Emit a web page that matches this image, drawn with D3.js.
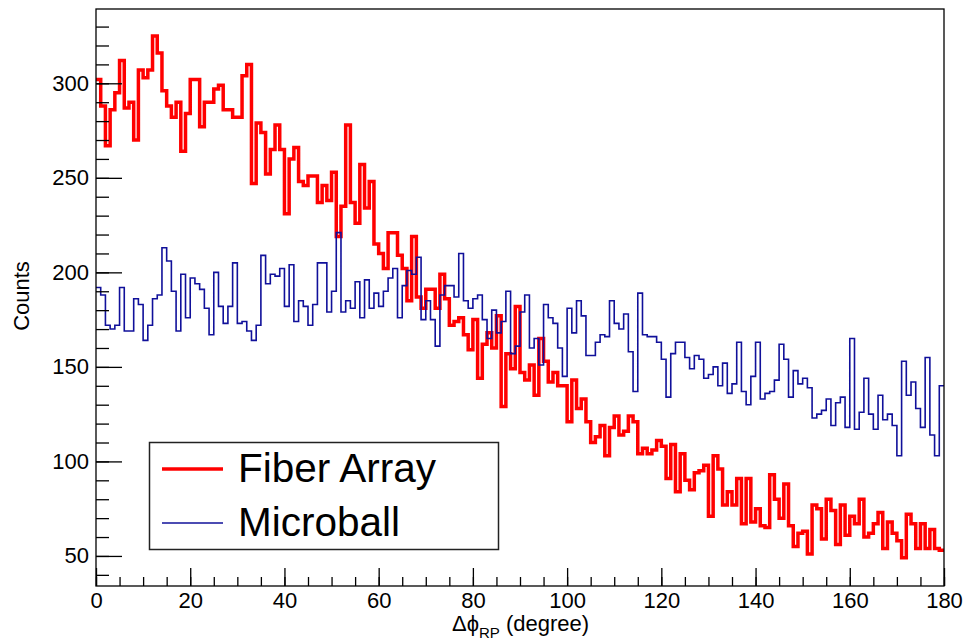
<!DOCTYPE html>
<html>
<head>
<meta charset="utf-8">
<script src="https://cdn.jsdelivr.net/npm/d3@7"></script>
<style>
  body { margin: 0; background: #fff; }
  text { font-family: "Liberation Sans", Arial, sans-serif; }
</style>
</head>
<body>
<svg id="vis1" width="963" height="642"></svg>
<script>
// bin edges: 1 degree bins from 0 to 180
var binStart = 0, binWidth = 1;

// Fiber Array counts per bin
var fiberCounts = [
 302,288,267,286,295,312,287,290,270,307, 303,307,325,316,296,288,282,290,264,284,
 302,302,277,290,290,297,299,286,286,282, 282,304,310,247,279,274,252,265,278,265,
 231,260,266,248,246,251,251,237,246,238, 253,219,235,278,237,226,257,234,248,215,
 210,202,221,221,209,202,185,219,187,181, 191,191,181,199,186,172,174,176,167,159,
 175,144,162,168,160,177,129,157,149,182, 147,143,151,135,165,153,142,147,140,140,
 121,143,128,133,121,110,113,119,103,118, 124,114,116,124,121,104,107,104,106,111,
 108,91,109,84,104,90,85,94,95,98, 71,103,96,77,84,77,91,67,91,68,
 75,66,65,93,80,70,88,66,55,62, 63,51,77,75,59,80,74,56,77,61,
 71,67,80,60,62,67,73,54,68,62, 58,49,72,67,54,67,54,64,54,53
];

// Microball counts per bin
var microCounts = [
 192,188,172,170,172,192,169,169,186,183, 164,172,186,188,213,206,190,169,199,176,
 197,194,191,181,167,200,182,173,182,205, 173,174,169,164,172,209,194,199,198,202,
 182,204,174,185,182,172,183,205,205,179, 190,221,179,185,181,195,176,196,181,189,
 182,190,197,202,176,193,201,199,208,175, 185,175,161,188,193,193,187,210,185,181,
 186,188,175,165,180,168,174,190,157,161, 179,188,160,165,151,183,176,173,160,145,
 181,168,185,177,156,156,163,167,166,185, 173,170,178,158,137,189,167,166,166,163,
 154,134,157,163,163,155,149,156,154,144, 146,150,140,152,136,141,163,137,130,145,
 163,133,136,137,143,162,154,134,148,141, 144,139,123,125,127,133,119,131,134,118,
 165,117,126,144,125,117,135,122,125,119, 103,153,135,142,128,118,155,114,103,140
];

var xTicks = [0,20,40,60,80,100,120,140,160,180];
var yTicks = [50,100,150,200,250,300];
var seriesNames = ["Fiber Array", "Microball"];
var seriesColors = ["#ff0000", "#10109a"];

window.onload = function(){
    drawChart();
};

function drawChart(){
    let svg = d3.select("#vis1");

    let left = 96, right = 944, top = 9, bottom = 586;

    let xScale = d3.scaleLinear().domain([0, 180]).range([left, right]);
    let yScale = d3.scaleLinear().domain([34.1, 339.3]).range([bottom, top]);

    // step line through bin edges, ROOT style
    function stepPoints(counts){
        let pts = counts.map(function(c, i){ return [binStart + i*binWidth, c]; });
        pts.push([binStart + counts.length*binWidth, counts[counts.length-1]]);
        return pts;
    }
    let line = d3.line()
        .x(function(d){ return xScale(d[0]); })
        .y(function(d){ return yScale(d[1]); })
        .curve(d3.curveStepAfter);

    let plot = svg.append("g");

    plot.append("path")
        .attr("d", line(stepPoints(fiberCounts)))
        .attr("fill", "none")
        .attr("stroke", seriesColors[0])
        .attr("stroke-width", 3.5);

    plot.append("path")
        .attr("d", line(stepPoints(microCounts)))
        .attr("fill", "none")
        .attr("stroke", seriesColors[1])
        .attr("stroke-width", 1.6);

    // axes: ticks drawn inside the frame
    let xAxis = d3.axisBottom(xScale)
        .tickValues(d3.range(0, 181, 5))
        .tickSize(-9)
        .tickFormat("");
    svg.append("g").attr("transform", "translate(0," + bottom + ")").call(xAxis)
        .call(styleAxis);

    let xMajor = d3.axisBottom(xScale)
        .tickValues(xTicks)
        .tickSize(-18)
        .tickPadding(6)
        .tickFormat(d3.format("d"));
    svg.append("g").attr("transform", "translate(0," + bottom + ")").call(xMajor)
        .call(styleAxis);

    let yAxis = d3.axisLeft(yScale)
        .tickValues(d3.range(40, 339, 10))
        .tickSize(-13)
        .tickFormat("");
    svg.append("g").attr("transform", "translate(" + left + ",0)").call(yAxis)
        .call(styleAxis);

    let yMajor = d3.axisLeft(yScale)
        .tickValues(yTicks)
        .tickSize(-26)
        .tickPadding(7)
        .tickFormat(d3.format("d"));
    svg.append("g").attr("transform", "translate(" + left + ",0)").call(yMajor)
        .call(styleAxis);

    // frame
    svg.append("rect")
        .attr("x", left).attr("y", top)
        .attr("width", right-left).attr("height", bottom-top)
        .attr("fill", "none").attr("stroke", "#000").attr("stroke-width", 1.3);

    // axis titles
    svg.append("text")
        .attr("transform", "translate(29," + 296 + ") rotate(-90)")
        .attr("text-anchor", "middle")
        .attr("font-size", 22)
        .text("Counts");

    let xt = svg.append("text")
        .attr("x", 452).attr("y", 631)
        .attr("font-size", 22);
    xt.append("tspan").text("\u0394\u03d5");
    xt.append("tspan").attr("dy", 7).attr("font-size", 15).text("RP");
    xt.append("tspan").attr("dy", -7).text(" (degree)");

    // legend
    let lg = svg.append("g");
    lg.append("rect")
        .attr("x", 149.5).attr("y", 442.5)
        .attr("width", 349).attr("height", 107)
        .attr("fill", "#fff").attr("stroke", "#222").attr("stroke-width", 1.5);
    let rows = [469, 523];
    seriesNames.forEach(function(name, i){
        lg.append("line")
            .attr("x1", 162).attr("x2", 223)
            .attr("y1", rows[i]).attr("y2", rows[i])
            .attr("stroke", seriesColors[i])
            .attr("stroke-width", i == 0 ? 3.5 : 1.6);
        lg.append("text")
            .attr("x", 238).attr("y", rows[i] + 13)
            .attr("font-size", 40.5)
            .text(name);
    });
}

function styleAxis(g){
    g.select(".domain").remove();
    g.selectAll(".tick line").attr("stroke", "#000").attr("stroke-width", 1.3);
    g.selectAll(".tick text").attr("font-size", 22).attr("fill", "#000")
        .attr("font-family", "Liberation Sans, Arial, sans-serif");
}
</script>
</body>
</html>
